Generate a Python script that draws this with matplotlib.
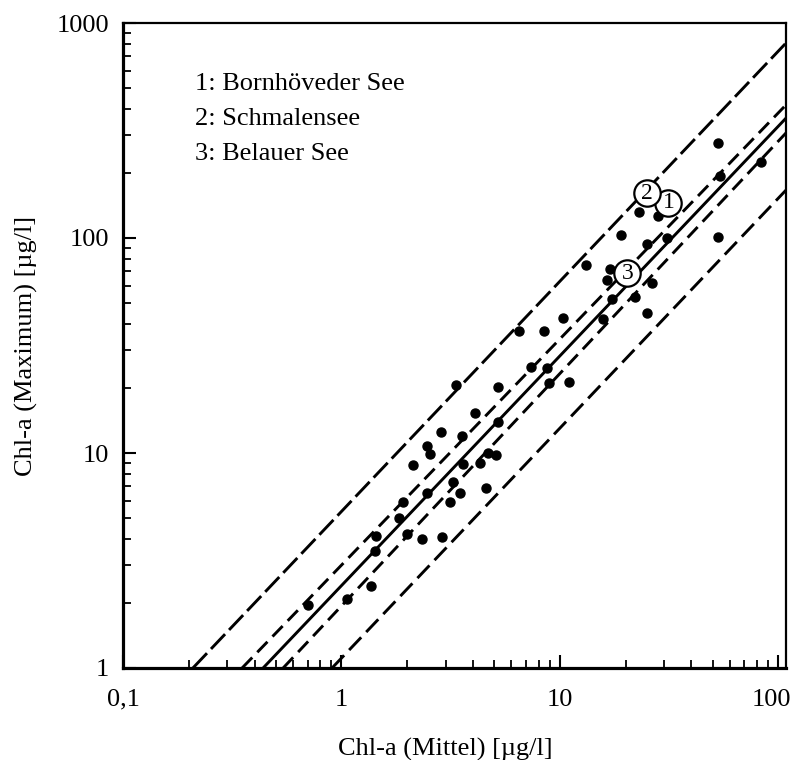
import numpy as np
import matplotlib.pyplot as plt
from matplotlib.ticker import LogLocator, NullFormatter
from matplotlib.transforms import ScaledTranslation

plt.rcParams['font.family'] = ['Liberation Serif', 'DejaVu Serif']

# Chl-a: Mittelwert gegen Maximum (µg/l), einzelne Seen
chl_mean = [53, 83, 54, 23, 28, 19, 25, 31, 53, 13.2, 17, 16.5, 26.5, 22, 17.4,
            25, 15.8, 10.3, 6.5, 8.5, 3.35, 5.2, 7.4, 8.7, 8.9, 11, 4.1, 2.86,
            3.57, 5.2, 2.47, 2.55, 2.13, 3.6, 4.3, 4.7, 5.1, 3.25, 3.5, 4.6,
            3.15, 2.47, 1.92, 2.0, 2.35, 2.9, 1.84, 1.44, 1.43, 1.37, 1.06, 0.70]
chl_max = [277, 225, 194, 132, 127, 103, 94, 100, 101, 75, 72, 64, 62, 53, 52,
           45, 42, 42.5, 37, 37, 20.7, 20.3, 25, 24.8, 21.2, 21.4, 15.4, 12.5,
           12, 13.9, 10.8, 9.9, 8.8, 8.9, 9.0, 10, 9.8, 7.3, 6.5, 6.9,
           5.9, 6.5, 5.9, 4.2, 4.0, 4.05, 5.0, 4.1, 3.5, 2.4, 2.1, 1.96]

# Regressionsgerade mit Vertrauens- und Vorhersagebereich (Endpunkte)
band_x = [[0.209, 108.5], [0.351, 108.5], [0.438, 108.5], [0.541, 108.5], [0.906, 108.5]]
band_y = [[1, 807], [1, 416], [1, 361], [1, 308], [1, 167]]

# Markierung der drei Seen
lake_ids = ['1', '2', '3']
lake_x = [31.4, 25.1, 20.4]
lake_y = [145.5, 161.8, 68.7]
lake_names = ['1: Bornhöveder See', '2: Schmalensee', '3: Belauer See']

x_ticks = [0.1, 1, 10, 100]
x_tick_labels = ['0,1', '1', '10', '100']
y_ticks = [1, 10, 100, 1000]
y_tick_labels = ['1', '10', '100', '1000']

fig = plt.figure(figsize=(7.92, 7.60), dpi=100)
ax = fig.add_axes([123 / 792, 1 - 668 / 760, 663 / 792, 645 / 760])
ax.set_xscale('log')
ax.set_yscale('log')

line_styles = [dict(dashes=(7, 2)), dict(dashes=(5, 2.5)), dict(linestyle='-'),
               dict(dashes=(5, 2.5)), dict(dashes=(6, 2.5))]
for xs, ys, st in zip(band_x, band_y, line_styles):
    ax.plot(xs, ys, color='black', lw=2.1, **st)

ax.plot(chl_mean, chl_max, 'o', color='black', ms=6.5, ls='none')

for lid, lx, ly in zip(lake_ids, lake_x, lake_y):
    ax.plot(lx, ly, 'o', ms=19, mfc='white', mec='black', mew=1.6, zorder=5)
    ax.text(lx, ly, lid, fontsize=17, ha='center', va='center', zorder=6)

for i, name in enumerate(lake_names):
    ax.text(0.1086, 0.896 - i * 0.0545, name, transform=ax.transAxes,
            fontsize=19, ha='left', va='baseline')

ax.set_xlim(0.1, 108.5)
ax.set_ylim(1, 1000)
ax.set_xticks(x_ticks)
ax.set_xticklabels(x_tick_labels)
ax.set_yticks(y_ticks)
ax.set_yticklabels(y_tick_labels)
ax.xaxis.set_minor_locator(LogLocator(base=10, subs=np.arange(2, 10)))
ax.yaxis.set_minor_locator(LogLocator(base=10, subs=np.arange(2, 10)))
ax.xaxis.set_minor_formatter(NullFormatter())
ax.yaxis.set_minor_formatter(NullFormatter())

ax.tick_params(which='both', direction='in', top=False, right=False)
ax.tick_params(which='major', length=9.5, width=1.5, labelsize=19)
ax.tick_params(which='minor', length=6, width=1.3)
ax.tick_params(axis='x', which='major', pad=15)
ax.tick_params(axis='y', which='major', pad=10)

# letzte x-Beschriftung etwas nach links, damit sie im Bild bleibt
last = ax.get_xticklabels()[-1]
last.set_transform(last.get_transform() + ScaledTranslation(-0.07, 0, fig.dpi_scale_trans))

for side in ['left', 'bottom']:
    ax.spines[side].set_linewidth(2.3)
for side in ['top', 'right']:
    ax.spines[side].set_linewidth(1.6)

ax.set_xlabel('Chl-a (Mittel) [µg/l]', fontsize=19)
ax.set_ylabel('Chl-a (Maximum) [µg/l]', fontsize=19)
ax.xaxis.set_label_coords(0.486, -0.108)
ax.yaxis.set_label_coords(-0.128, 0.5)

fig.savefig('out.png', dpi=100)
